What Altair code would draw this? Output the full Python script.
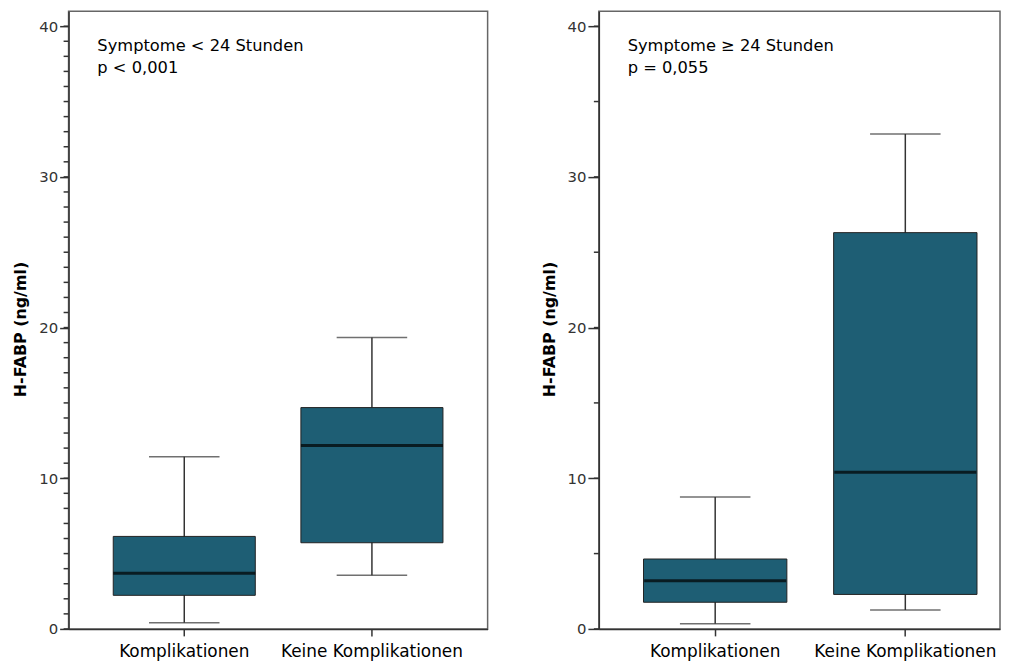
import altair as alt
import pandas as pd

# ---- data ----
categories = ["Komplikationen", "Keine Komplikationen"]

left_title = ["Symptome < 24 Stunden", "p < 0,001"]
left_low = [0.41, 3.56]
left_q1 = [2.23, 5.72]
left_median = [3.69, 12.18]
left_q3 = [6.14, 14.69]
left_high = [11.43, 19.34]

right_title = ["Symptome \u2265 24 Stunden", "p = 0,055"]
right_low = [0.35, 1.26]
right_q1 = [1.77, 2.29]
right_median = [3.2, 10.4]
right_q3 = [4.64, 26.3]
right_high = [8.76, 32.85]

y_major = [0, 10, 20, 30, 40]
left_minor = list(range(0, 41, 1))
right_minor = list(range(0, 41, 5))
y_title = "H-FABP (ng/ml)"

FONT = "DejaVu Sans"
BOX_FILL = "#1e5e74"
Y_MAX = 40.99


def panel(low, q1, med, q3, high, title_lines, minor, width, pin, pout, align, major_tick):
    df = pd.DataFrame({"cat": categories, "low": low, "q1": q1, "med": med, "q3": q3, "high": high})
    xs = alt.Scale(paddingInner=pin, paddingOuter=pout, align=align)
    ys = alt.Scale(domain=[0, Y_MAX], nice=False, zero=True)
    x = alt.X("cat:N", sort=categories, scale=xs, title=None,
              axis=alt.Axis(labelAngle=0, labelFont=FONT, labelFontSize=17, labelColor="#000",
                            labelPadding=8, tickSize=7, tickColor="#333", tickWidth=1.5,
                            domainColor="#333", domainWidth=1.5, labelBaseline="top",
                            labelLimit=0))
    y_axis = alt.Axis(values=y_major, grid=False, title=y_title, titleFont=FONT, titleFontSize=16,
                      titleFontWeight="bold", titleColor="#000", titlePadding=10, titleY=320,
                      labelFont=FONT, labelFontSize=15, labelColor="#333", labelPadding=2,
                      tickSize=major_tick, tickColor="#333", tickWidth=1.5,
                      domainColor="#333", domainWidth=1.5)
    base = alt.Chart(df)
    whisk = base.mark_rule(color="#333", strokeWidth=1.5).encode(
        x=x, y=alt.Y("low:Q", scale=ys, axis=y_axis), y2="high:Q")
    box = base.mark_bar(fill=BOX_FILL, stroke="#222", strokeWidth=1).encode(
        x=x, y=alt.Y("q1:Q"), y2="q3:Q")
    caps_lo = base.mark_tick(color="#333", size=71, thickness=1.5).encode(x=x, y="low:Q")
    caps_hi = base.mark_tick(color="#333", size=71, thickness=1.5).encode(x=x, y="high:Q")
    median = base.mark_tick(color="#000", size=143, thickness=3).encode(x=x, y="med:Q")
    mdf = pd.DataFrame({"v": minor})
    minor_ticks = alt.Chart(mdf).mark_rule(color="#333", strokeWidth=1.5).encode(
        y="v:Q", x=alt.value(-5), x2=alt.value(0))
    t1 = alt.Chart(pd.DataFrame({"t": [title_lines[0]]})).mark_text(
        align="left", baseline="alphabetic", font=FONT, fontSize=16.4, color="#000").encode(
        text="t:N", x=alt.value(29), y=alt.value(40))
    t2 = alt.Chart(pd.DataFrame({"t": [title_lines[1]]})).mark_text(
        align="left", baseline="alphabetic", font=FONT, fontSize=16.4, color="#000").encode(
        text="t:N", x=alt.value(29), y=alt.value(62.5))
    return alt.layer(whisk, box, caps_lo, caps_hi, median, minor_ticks, t1, t2).properties(
        width=width, height=622)


left = panel(left_low, left_q1, left_median, left_q3, left_high, left_title, left_minor,
             422, 0.243, 0.238, 0.5, 9)
right = panel(right_low, right_q1, right_median, right_q3, right_high, right_title, right_minor,
              404, 0.246, 0.178, 0.66, 11)

chart = alt.hconcat(left, right, spacing=52).properties(
    padding={"left": 4, "top": 0, "right": 0, "bottom": 0}
).configure_view(stroke="#666", strokeWidth=1.5)

chart.save("out.html", embed_options={"renderer": "svg", "actions": False})
